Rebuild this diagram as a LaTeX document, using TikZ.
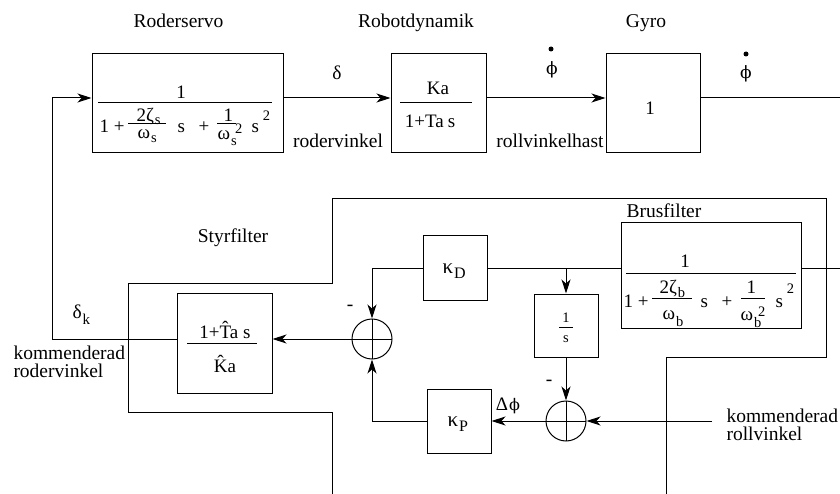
\documentclass[tikz,border=0pt]{standalone}
\usepackage{fontspec}
\setmainfont{Liberation Serif}
\newfontfamily\dvs{DejaVu Serif}
\usetikzlibrary{arrows.meta}
\begin{document}
\begin{tikzpicture}[x=1pt,y=-1pt,line width=1pt,
  blk/.style={draw,inner sep=0pt},
  arr/.style={-{Stealth[length=14pt,width=9pt,inset=4pt]}},
  lab/.style={inner sep=0pt,anchor=base,font=\fontsize{19.5}{22}\selectfont},
  labw/.style={inner sep=0pt,anchor=base west,font=\fontsize{19.5}{22}\selectfont},
  fr/.style={inner sep=0pt,anchor=base west,font=\fontsize{19}{21}\selectfont},
  frc/.style={inner sep=0pt,anchor=base,font=\fontsize{19}{21}\selectfont},
  sb/.style={inner sep=0pt,anchor=base west,font=\fontsize{14.5}{16}\selectfont},
  sbc/.style={inner sep=0pt,anchor=base,font=\fontsize{14.5}{16}\selectfont},
  kap/.style={inner sep=0pt,anchor=base west,font=\fontsize{21}{23}\selectfont},
  ksb/.style={inner sep=0pt,anchor=base west,font=\fontsize{16}{18}\selectfont},
  dotc/.style={circle,fill,inner sep=0pt,minimum size=5pt},
  sumc/.style={draw,circle,minimum size=40pt,inner sep=0pt,
    path picture={\draw (path picture bounding box.north) -- (path picture bounding box.south)
      (path picture bounding box.west) -- (path picture bounding box.east);}}]
\useasboundingbox (0,0) rectangle (840,494);
% blocks
\node[blk,minimum width=191pt,minimum height=99pt] (roder) at (187.5,103.5) {};
\node[blk,minimum width=95pt,minimum height=99pt] (robot) at (438.5,103.5) {};
\node[blk,minimum width=94pt,minimum height=99pt] (gyro) at (653,103.5) {};
\node[blk,minimum width=95pt,minimum height=100pt] (styr) at (224.5,343) {};
\node[blk,minimum width=64pt,minimum height=64pt] (kd) at (455,268) {};
\node[blk,minimum width=64pt,minimum height=63pt] (inv) at (566,325.5) {};
\node[blk,minimum width=180pt,minimum height=105pt] (brus) at (711,275.5) {};
\node[blk,minimum width=64pt,minimum height=64pt] (kp) at (459,421) {};
\node[sumc] (sum1) at (372,339) {};
\node[sumc] (sum2) at (566,421) {};
% enclosing outline
\draw (332,494) -- (332,412) -- (128,412) -- (128,283) -- (332,283) -- (332,199)
  -- (826,199) -- (826,357) -- (666,357) -- (666,494);
% titles
\node[lab] (tRoder) at (178.5,28) {Roderservo};
\node[lab] (tRobot) at (416,28) {Robotdynamik};
\node[lab] (tGyro) at (646,28) {Gyro};
\node[lab] (tStyr) at (233,243) {Styrfilter};
\node[lab] (tBrus) at (664,218) {Brusfilter};
% Roderservo fraction
\node[frc] (r1) at (181,99) {1};
\draw (98,103) -- (272,103);
\node[fr] (r2) at (99,133) {1 +};
\node[fr] (r3) at (136,122) {2ζ};
\node[sb] (r4) at ([yshift=-3pt]r3.base east) {s};
\draw (128,124) -- (166,124);
\node[fr] (r5) at (137,139) {ω};
\node[sb] (r6) at ([yshift=-4pt]r5.base east) {s};
\node[fr] (r7) at (177,133) {s};
\node[fr] (r8) at (198,133) {+};
\node[fr] (r9) at (223,122) {1};
\draw (217,124) -- (236,124);
\node[fr] (r10) at (217,140) {ω};
\node[sb] (r11) at ([yshift=-6pt]r10.base east) {s};
\node[sb] (r12) at ([xshift=4pt,yshift=6pt]r10.base east) {2};
\node[fr] (r13) at (251,133) {s};
\node[sb] (r14) at ([xshift=3pt,yshift=12pt]r13.base east) {2};
% Robotdynamik
\node[frc] (k1) at (438,95) {Ka};
\draw (400,103) -- (472,103);
\node[frc] (k2) at (430,128) {1+Ta\hspace{4pt}s};
% Gyro
\node[frc] (g1) at (650,115) {1};
% Brusfilter fraction
\node[frc] (b1) at (685,268) {1};
\draw (626,273) -- (796,273);
\node[fr] (b2) at (623,307) {1 +};
\node[fr] (b3) at (659,293) {2ζ};
\node[sb] (b4) at ([yshift=-5pt]b3.base east) {b};
\draw (652,298) -- (692,298);
\node[fr] (b5) at (662,319) {ω};
\node[sb] (b6) at ([yshift=-7pt]b5.base east) {b};
\node[fr] (b7) at (700,307) {s};
\node[fr] (b8) at (721,307) {+};
\node[fr] (b9) at (746,293) {1};
\draw (741,298) -- (765,298);
\node[fr] (b10) at (740,320) {ω};
\node[sb] (b11) at ([yshift=-7pt]b10.base east) {b};
\node[sb] (b12) at ([xshift=4pt,yshift=4pt]b10.base east) {2};
\node[fr] (b13) at (775,307) {s};
\node[sb] (b14) at ([xshift=3pt,yshift=13pt]b13.base east) {2};
% 1/s
\node[sbc] (i1) at (566,322) {1};
\draw (559,327) -- (573,327);
\node[sbc] (i2) at (566,342) {s};
% Styrfilter block
\node[frc] (s1) at (225,338) {1+\^{T}a s};
\draw (187,343) -- (257,343);
\node[frc] (s2) at (225,372) {\^{K}a};
% gains
\node[kap] (kd1) at (442,273) {κ};
\node[ksb] (kd2) at ([yshift=-5pt]kd1.base east) {D};
\node[kap] (kp1) at (447,426) {κ};
\node[ksb] (kp2) at ([yshift=-5pt]kp1.base east) {P};
% signal labels
\node[lab] (lDelta) at (337,80) {δ};
\node[lab,anchor=center,font=\dvs\fontsize{17}{20}\selectfont] (lPhi1) at (552,70) {ϕ};
\node[dotc] (d1) at (551,49) {};
\node[lab,anchor=center,font=\dvs\fontsize{17}{20}\selectfont] (lPhi2) at (746,74) {ϕ};
\node[dotc] (d2) at (746,54) {};
\node[lab] (lRv) at (338,148) {rodervinkel};
\node[lab] (lRh) at (550,148) {rollvinkelhast};
\node[labw] (lDk) at (72,318) {δ};
\node[sb,font=\fontsize{15}{17}\selectfont] (lDk2) at ([yshift=-6pt]lDk.base east) {k};
\node[labw] (lK1) at (13,359) {kommenderad};
\node[labw] (lK2) at (13,377) {rodervinkel};
\node[labw] (lK3) at (726,422) {kommenderad};
\node[labw] (lK4) at (726,440) {rollvinkel};
\node[frc] (lDp) at (502,410) {Δ};
\node[inner sep=0pt,anchor=base west,font=\dvs\fontsize{16}{18}\selectfont] (lDp2) at (lDp.base east) {ϕ};
\node[lab,anchor=center] (m1) at (350,308) {-};
\node[lab,anchor=center] (m2) at (549,383) {-};
% coordinates
\coordinate (rowA) at (0,98);
\coordinate (rowB) at (0,268);
\coordinate (outR) at (840,98);
\coordinate (inR) at (840,268);
\coordinate (cmdR) at (712,421);
\coordinate (fbL) at (52,339);
% connectors
\draw[arr] (styr.west |- sum1) -- (fbL) |- (roder.west |- rowA);
\draw[arr] (roder.east |- rowA) -- (robot.west |- rowA);
\draw[arr] (robot.east |- rowA) -- (gyro.west |- rowA);
\draw (gyro.east |- rowA) -- (outR);
\draw (inR) -- (brus.east |- rowB);
\draw (brus.west |- rowB) -- (kd.east);
\draw[arr] (inv.north |- rowB) -- (inv.north);
\draw[arr] (kd.west) -| (sum1.north);
\draw[arr] (inv.south) -- (sum2.north);
\draw[arr] (cmdR) -- (sum2.east);
\draw[arr] (sum2.west) -- (kp.east);
\draw[arr] (kp.west) -| (sum1.south);
\draw[arr] (sum1.west) -- (styr.east |- sum1);
\end{tikzpicture}
\end{document}
